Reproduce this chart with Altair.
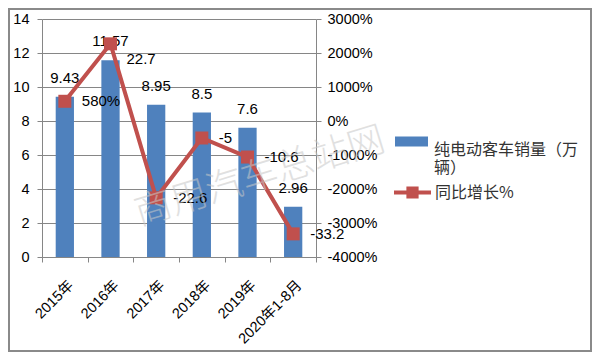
import altair as alt
import pandas as pd

years = ["2015年", "2016年", "2017年", "2018年", "2019年", "2020年1-8月"]
sales = [9.43, 11.57, 8.95, 8.5, 7.6, 2.96]
growth = [580, 2270, -2260, -500, -1060, -3320]
growth_labels = ["580%", "22.7", "-22.6", "-5", "-10.6", "-33.2"]
sales_name = "纯电动客车销量（万辆）"
growth_name = "同比增长%"
watermark = "商用汽车总站网"

df = pd.DataFrame({
    "year": years,
    "sales": sales,
    "growth": growth,
    "glabel": growth_labels,
    "s1": [sales_name] * len(years),
    "s2": [growth_name] * len(years),
})

FONT = "Liberation Sans, Noto Sans CJK SC"
CJK = "Noto Sans CJK SC"
BLUE = "#4F81BD"
RED = "#C0504D"
GREY = "#868686"
W, H = 274, 238
PAD = {"left": 34, "top": 11, "right": 276, "bottom": 95}

x_enc = alt.X("year:N", sort=years, title=None,
              scale=alt.Scale(paddingInner=0, paddingOuter=0),
              axis=alt.Axis(labelAngle=-45, labelAlign="right", labelBaseline="middle",
                            tickBand="extent", labelPadding=21, labelOffset=6, tickSize=5))

yl = alt.Y("sales:Q", title=None,
           scale=alt.Scale(domain=[0, 14], nice=False),
           axis=alt.Axis(values=[0, 2, 4, 6, 8, 10, 12, 14], grid=True, tickSize=5,
                         labelPadding=8, orient="left"))

yr = alt.Y("growth:Q", title=None,
           scale=alt.Scale(domain=[-4000, 3000], nice=False),
           axis=alt.Axis(values=[-4000, -3000, -2000, -1000, 0, 1000, 2000, 3000],
                         grid=False, tickSize=5, labelPadding=6, orient="right",
                         labelExpr="datum.value + '%'"))

base = alt.Chart(df)

bars = base.mark_bar(width={"band": 0.4}).encode(
    x=x_enc, y=yl,
    color=alt.Color("s1:N", title=None,
                    scale=alt.Scale(range=[BLUE]),
                    legend=alt.Legend(orient="none", legendX=353, legendY=106,
                                      symbolType="M-1,-0.3H1V0.3H-1Z", symbolSize=1089,
                                      symbolStrokeWidth=0, labelFont=CJK, labelFontSize=16,
                                      labelLimit=400, labelColor="#333333",
                                      labelBaseline="top", labelOffset=6,
                                      labelExpr="[substring(datum.label, 0, 9), substring(datum.label, 9)]")),
)
bar_text = base.mark_text(baseline="middle", dy=-19, font=FONT, fontSize=15, color="black").encode(
    x=x_enc, y=yl, text=alt.Text("sales:Q"))

left = alt.layer(bars, bar_text)

line = base.mark_line(color=RED, strokeWidth=4).encode(x=x_enc, y=yr)
pts = base.mark_point(shape="square", filled=True, size=169, opacity=1).encode(
    x=x_enc, y=yr,
    fill=alt.Fill("s2:N", title=None,
                  scale=alt.Scale(range=[RED]),
                  legend=alt.Legend(orient="none", legendX=352, legendY=155,
                                    symbolType="M-1,-0.11H1V0.11H-1Z M-0.33,-0.33H0.33V0.33H-0.33Z",
                                    symbolSize=1369, symbolStrokeWidth=0,
                                    labelFont=CJK, labelFontSize=16, labelOffset=4,
                                    labelColor="#333333", labelLimit=400)),
)
gtext_main = base.transform_filter(alt.datum.year != "2016年").mark_text(
    align="left", baseline="middle", dx=17, font=FONT, fontSize=15, color="black"
).encode(x=x_enc, y=yr, text="glabel:N")
gtext_2016 = base.transform_filter(alt.datum.year == "2016年").mark_text(
    align="left", baseline="middle", dx=16, dy=15, font=FONT, fontSize=15, color="black"
).encode(x=x_enc, y=yr, text="glabel:N")

right = alt.layer(line, pts, gtext_main, gtext_2016)

wm = alt.Chart(alt.Data(values=[{"t": watermark}])).mark_text(
    font=CJK, fontSize=37, fontWeight=300, angle=343, fill="#c8c8c8", opacity=0.55,
    align="center", baseline="middle"
).encode(x=alt.value(218), y=alt.value(158), text="t:N")

frame = alt.Chart(alt.Data(values=[{}])).mark_rect(
    fill="transparent", stroke="#8a8a8a", strokeWidth=2
).encode(x=alt.value(-PAD["left"] + 1), x2=alt.value(W + PAD["right"] - 1),
         y=alt.value(-PAD["top"] + 1), y2=alt.value(H + PAD["bottom"] - 1))

chart = alt.layer(left, right, wm, frame).resolve_scale(
    y="independent", color="independent", fill="independent"
).properties(
    width=W, height=H, padding=PAD, autosize=alt.AutoSizeParams(type="none"),
    background="white"
).configure_view(stroke=None).configure_axis(
    labelFont=FONT, labelFontSize=14.5, labelColor="black",
    domainColor=GREY, tickColor=GREY, gridColor=GREY, domainWidth=1, gridWidth=1
)

chart.save("out.html", embed_options={"renderer": "svg", "actions": False})
